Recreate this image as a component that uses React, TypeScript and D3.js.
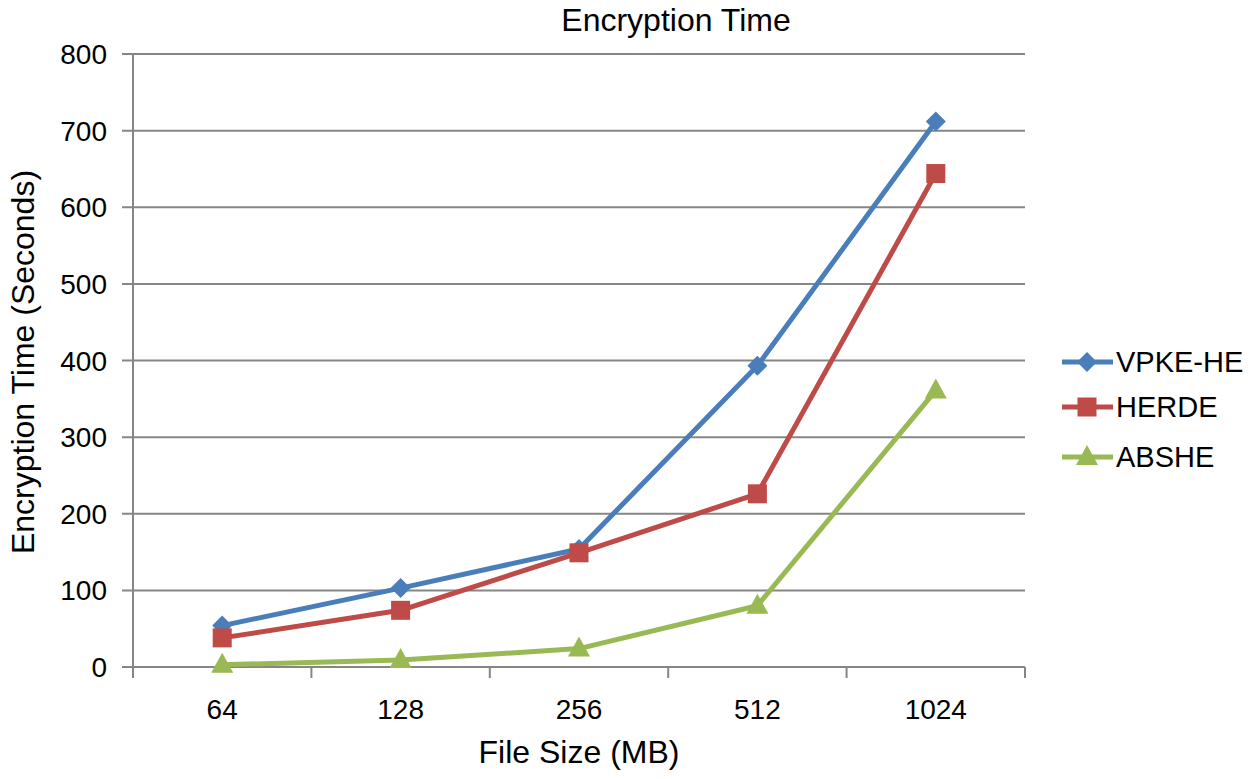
import React from "react";
import * as d3 from "d3";

const categories = ["64", "128", "256", "512", "1024"];
const yTicks = [0, 100, 200, 300, 400, 500, 600, 700, 800];
const vpke = [54, 103, 154, 393, 712];
const herde = [38, 74, 149, 226, 644];
const abshe = [3, 9, 24, 80, 361];

const seriesNames = ["VPKE-HE", "HERDE", "ABSHE"];
const seriesColors = ["#4a7ebb", "#be4b48", "#98b954"];
const seriesShapes = ["diamond", "square", "triangle"];
const seriesData = [vpke, herde, abshe];

const W = 1250, H = 779;
const left = 133, right = 1025, top = 54, bottom = 667;
const font = "'Liberation Sans', Arial, sans-serif";

function Marker({ shape, x, y, color }: { shape: string; x: number; y: number; color: string }) {
  if (shape === "diamond") {
    const s = 10;
    return <path d={`M${x},${y - s}L${x + s},${y}L${x},${y + s}L${x - s},${y}Z`} fill={color} />;
  }
  if (shape === "square") {
    const s = 9.5;
    return <rect x={x - s} y={y - s} width={2 * s} height={2 * s} fill={color} />;
  }
  const s = 11;
  return <path d={`M${x},${y - 12}L${x + s},${y + 8}L${x - s},${y + 8}Z`} fill={color} />;
}

export default function App() {
  const x = d3.scaleBand<string>().domain(categories).range([left, right]);
  const y = d3.scaleLinear().domain([0, 800]).range([bottom, top]);
  const cx = (c: string) => (x(c) as number) + x.bandwidth() / 2;
  const line = d3
    .line<number>()
    .x((_, i) => cx(categories[i]))
    .y((d) => y(d));
  const boundaries = categories.map((c) => x(c) as number).concat([right]);
  const legendY = [362, 407, 457];

  return (
    <svg width={W} height={H} style={{ position: "absolute", left: 0, top: 0, background: "#fff" }} fontFamily={font}>
      <text x={676} y={31} textAnchor="middle" fontSize={32} fill="#000">Encryption Time</text>
      {yTicks.map((t) => (
        <g key={t}>
          <line x1={122} x2={right} y1={y(t)} y2={y(t)} stroke="#868686" strokeWidth={2} />
          <text x={107} y={y(t) + 10} textAnchor="end" fontSize={28} fill="#000">{t}</text>
        </g>
      ))}
      <line x1={left} x2={left} y1={top} y2={bottom} stroke="#868686" strokeWidth={2} />
      {boundaries.map((b, i) => (
        <line key={i} x1={b} x2={b} y1={bottom} y2={bottom + 11} stroke="#868686" strokeWidth={2} />
      ))}
      {categories.map((c) => (
        <text key={c} x={cx(c)} y={719} textAnchor="middle" fontSize={28} fill="#000">{c}</text>
      ))}
      <text x={579} y={763} textAnchor="middle" fontSize={32} fill="#000">File Size (MB)</text>
      <text transform={`translate(34,362) rotate(-90)`} textAnchor="middle" fontSize={32} fill="#000">Encryption Time (Seconds)</text>
      {seriesData.map((d, si) => (
        <g key={si}>
          <path d={line(d) || ""} fill="none" stroke={seriesColors[si]} strokeWidth={5} strokeLinejoin="round" />
          {d.map((v, i) => (
            <Marker key={i} shape={seriesShapes[si]} x={cx(categories[i])} y={y(v)} color={seriesColors[si]} />
          ))}
        </g>
      ))}
      {seriesNames.map((n, si) => (
        <g key={n}>
          <line x1={1062} x2={1113} y1={legendY[si]} y2={legendY[si]} stroke={seriesColors[si]} strokeWidth={5} />
          <Marker shape={seriesShapes[si]} x={1087} y={legendY[si]} color={seriesColors[si]} />
          <text x={1116} y={legendY[si] + 10} fontSize={29} fill="#000">{n}</text>
        </g>
      ))}
    </svg>
  );
}
